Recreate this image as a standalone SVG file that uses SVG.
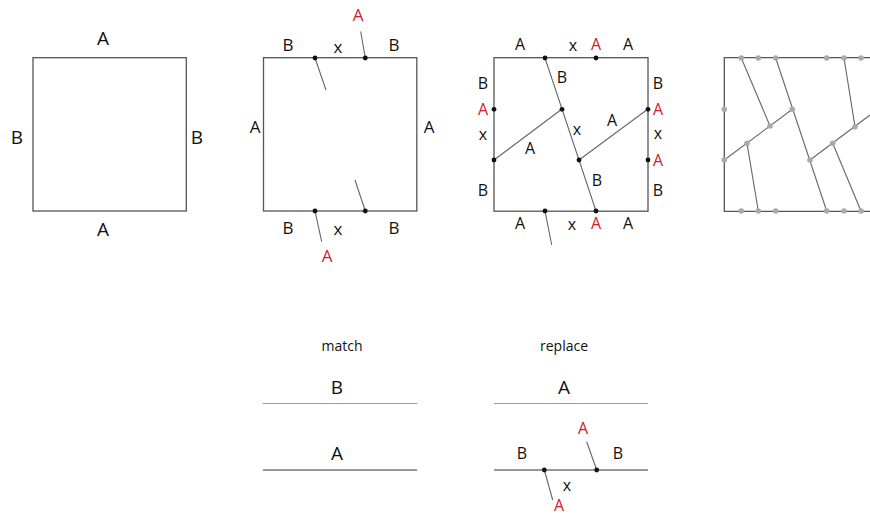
<svg xmlns="http://www.w3.org/2000/svg" width="870" height="518" viewBox="0 0 870 518">
<style>
text{font-family:"Open Sans","Liberation Sans",sans-serif;text-anchor:middle;dominant-baseline:central;fill:#111}
.r{fill:#d0202a}
.sq{fill:none;stroke:#555;stroke-width:1.3}
.ln{stroke:#666;stroke-width:1.1;fill:none}
.dot{fill:#111}
.gd{fill:#aaa}
.l1{font-size:19px}
.l2{font-size:17px}
.l3{font-size:16px}
.sm{font-size:14px}
</style>
<rect width="870" height="518" fill="#fff"/>

<g id="square1">
<rect class="sq" x="33" y="57.7" width="153.3" height="153.3"/>
<text class="l1" x="103" y="38">A</text>
<text class="l1" x="103" y="229">A</text>
<text class="l1" x="17" y="137">B</text>
<text class="l1" x="197" y="137">B</text>
</g>

<g id="square2">
<rect class="sq" x="263.5" y="57.7" width="153.3" height="153.3"/>
<text class="l2" x="288" y="44">B</text>
<text class="l2" x="338" y="46">x</text>
<text class="l2" x="394" y="44">B</text>
<text class="l2 r" x="358" y="14">A</text>
<text class="l2" x="255" y="126">A</text>
<text class="l2" x="429" y="126">A</text>
<text class="l2" x="288" y="227">B</text>
<text class="l2" x="338" y="228">x</text>
<text class="l2" x="394" y="227">B</text>
<text class="l2 r" x="327" y="255">A</text>
</g>

<g id="square3">
<rect class="sq" x="494" y="57.7" width="154" height="153.5"/>
<text class="l3" x="520" y="44">A</text>
<text class="l3" x="573" y="45">x</text>
<text class="l3 r" x="596" y="44">A</text>
<text class="l3" x="628" y="44">A</text>
<text class="l3" x="483" y="83">B</text>
<text class="l3 r" x="483" y="109">A</text>
<text class="l3" x="483" y="134">x</text>
<text class="l3" x="483" y="190">B</text>
<text class="l3" x="658" y="83">B</text>
<text class="l3 r" x="658" y="109">A</text>
<text class="l3" x="658" y="133">x</text>
<text class="l3 r" x="658" y="160">A</text>
<text class="l3" x="658" y="190">B</text>
<text class="l3" x="562" y="77">B</text>
<text class="l3" x="577" y="129">x</text>
<text class="l3" x="612" y="120">A</text>
<text class="l3" x="530" y="148">A</text>
<text class="l3" x="597" y="180">B</text>
<text class="l3" x="520" y="223">A</text>
<text class="l3" x="572" y="224">x</text>
<text class="l3 r" x="596" y="223">A</text>
<text class="l3" x="628" y="223">A</text>
</g>

<g id="square4">
<path class="sq" d="M870 57.7H724.3V211.3H870"/>
</g>

<g id="match">
<text class="sm" x="342" y="345">match</text>
<text class="l1" x="337" y="387">B</text>
<text class="l1" x="337" y="453">A</text>
<line x1="263" y1="403.5" x2="417" y2="403.5" stroke="#9a9a9a" stroke-width="1.2"/>
<line x1="263" y1="470" x2="417" y2="470" stroke="#333" stroke-width="1.2"/>
</g>

<g id="replace">
<text class="sm" x="564" y="345">replace</text>
<text class="l1" x="564" y="387">A</text>
<line x1="494" y1="403.5" x2="648" y2="403.5" stroke="#9a9a9a" stroke-width="1.2"/>
<line x1="494" y1="470" x2="648" y2="470" stroke="#333" stroke-width="1.2"/>
<text class="l3" x="522" y="453">B</text>
<text class="l3" x="618" y="453">B</text>
<text class="l3 r" x="583" y="428">A</text>
<text class="l3" x="567" y="485">x</text>
<text class="l3 r" x="559" y="505">A</text>
</g>

<g id="connectors">
<line class="ln" x1="315" y1="58" x2="326" y2="90"/>
<line class="ln" x1="365.3" y1="58" x2="360.7" y2="31.5"/>
<line class="ln" x1="315" y1="211" x2="321.7" y2="241.7"/>
<line class="ln" x1="365.3" y1="211" x2="355" y2="180"/>
<circle class="dot" cx="315" cy="58" r="2.4"/>
<circle class="dot" cx="365.3" cy="58" r="2.4"/>
<circle class="dot" cx="315" cy="211" r="2.4"/>
<circle class="dot" cx="365.3" cy="211" r="2.4"/>
<line class="ln" x1="545" y1="58" x2="596" y2="211"/>
<line class="ln" x1="494" y1="160" x2="562" y2="109"/>
<line class="ln" x1="579" y1="160" x2="648" y2="109"/>
<line class="ln" x1="545" y1="211" x2="551.7" y2="245"/>
<circle class="dot" cx="545" cy="58" r="2.4"/>
<circle class="dot" cx="596" cy="58" r="2.4"/>
<circle class="dot" cx="494" cy="109.3" r="2.4"/>
<circle class="dot" cx="494" cy="160" r="2.4"/>
<circle class="dot" cx="648" cy="109.3" r="2.4"/>
<circle class="dot" cx="648" cy="160" r="2.4"/>
<circle class="dot" cx="562" cy="109.3" r="2.4"/>
<circle class="dot" cx="579" cy="160" r="2.4"/>
<circle class="dot" cx="545" cy="211" r="2.4"/>
<circle class="dot" cx="596" cy="211" r="2.4"/>
<line class="ln" x1="724.3" y1="160" x2="792.3" y2="109.3"/>
<line class="ln" x1="741.3" y1="58" x2="770" y2="126"/>
<line class="ln" x1="747" y1="143.3" x2="758.3" y2="211"/>
<line class="ln" x1="775.7" y1="58" x2="826.7" y2="211"/>
<line class="ln" x1="810" y1="160" x2="870" y2="115"/>
<line class="ln" x1="844" y1="58" x2="855" y2="126.7"/>
<line class="ln" x1="832.7" y1="143.3" x2="861" y2="211"/>
<g class="gd">
<circle cx="741.3" cy="58" r="2.8"/><circle cx="758.3" cy="58" r="2.8"/><circle cx="775.7" cy="58" r="2.8"/>
<circle cx="826.7" cy="58" r="2.8"/><circle cx="844" cy="58" r="2.8"/><circle cx="861" cy="58" r="2.8"/>
<circle cx="741.3" cy="211" r="2.8"/><circle cx="758.3" cy="211" r="2.8"/><circle cx="775.7" cy="211" r="2.8"/>
<circle cx="826.7" cy="211" r="2.8"/><circle cx="844" cy="211" r="2.8"/><circle cx="861" cy="211" r="2.8"/>
<circle cx="724.3" cy="109.3" r="2.8"/><circle cx="724.3" cy="160" r="2.8"/>
<circle cx="792.3" cy="109.3" r="2.8"/><circle cx="770" cy="126" r="2.8"/><circle cx="747" cy="143.3" r="2.8"/>
<circle cx="810" cy="160" r="2.8"/><circle cx="832.7" cy="143.3" r="2.8"/><circle cx="855" cy="126.7" r="2.8"/>
</g>
<line class="ln" x1="596.7" y1="470" x2="586.7" y2="441.7"/>
<line class="ln" x1="544.3" y1="470" x2="552.7" y2="500"/>
<circle class="dot" cx="544.3" cy="470" r="2.4"/>
<circle class="dot" cx="596.7" cy="470" r="2.4"/>
</g>
</svg>
